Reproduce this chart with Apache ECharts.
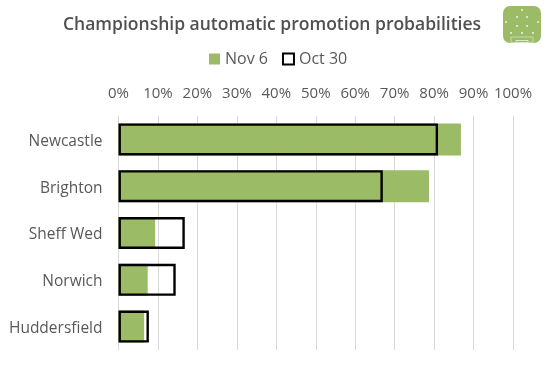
<!DOCTYPE html>
<html><head><meta charset="utf-8">
<style>html,body{margin:0;padding:0;background:#fff}#c{width:546px;height:365px}</style>
<script src="https://cdn.jsdelivr.net/npm/echarts@6/dist/echarts.min.js"></script>
</head><body><div id="c"></div>
<script>
const categories = ['Newcastle','Brighton','Sheff Wed','Norwich','Huddersfield'];
const nov6 = [86.8,78.7,9.3,7.4,6.5];
const oct30 = [81,67,16.8,14.5,7.7];
const seriesNames = ['Nov 6','Oct 30'];
const titleText = 'Championship automatic promotion probabilities';
const font = '"Open Sans"';
const green = '#9BBB67', grey = '#595959';
const chart = echarts.init(document.getElementById('c'));
const dots = [[506,22],[517,17],[527,17],[538,22],[517,26],[527,26],[511,33],[522,33],[533,33],[522,10]];
chart.setOption({
  animation:false,
  title:{text:titleText,left:63,top:16,padding:0,textStyle:{fontFamily:font,fontSize:17.5,fontWeight:600,color:'#505050'}},
  legend:{data:[{name:seriesNames[0],icon:'rect'},{name:seriesNames[1],icon:'rect'}],top:51,left:209,padding:0,itemWidth:11,itemHeight:11,itemGap:14,
    textStyle:{fontFamily:font,fontSize:16,color:grey}},
  grid:{left:118.5,right:33,top:116,bottom:15,containLabel:false},
  xAxis:{type:'value',position:'top',min:0,max:100,interval:10,
    axisLine:{show:false},axisTick:{show:false},
    axisLabel:{formatter:'{value}%',fontFamily:font,fontSize:15,color:grey,margin:15},
    splitLine:{show:true,lineStyle:{color:'#D9D9D9',width:1}}},
  yAxis:{type:'category',data:categories,inverse:true,
    axisLine:{show:true,lineStyle:{color:'#D9D9D9'}},axisTick:{show:false},
    axisLabel:{margin:16,formatter:'{a|{value}}',
      rich:{a:{fontFamily:font,fontSize:15.5,color:grey,padding:[4,0,0,0]}}}},
  series:[
    {name:seriesNames[0],type:'bar',data:nov6,barWidth:32,barGap:'-100%',itemStyle:{color:green},z:2},
    {name:seriesNames[1],type:'bar',data:oct30,barWidth:32,barGap:'-100%',
      itemStyle:{color:'rgba(255,255,255,0)',borderColor:'#000',borderWidth:2.4},z:3}
  ],
  graphic:[
    {type:'rect',shape:{x:503,y:6,width:38,height:37,r:7},style:{fill:green},z:10},
    ...dots.map(d=>({type:'circle',shape:{cx:d[0],cy:d[1],r:1},style:{fill:'#EEF3E2'},z:11})),
    {type:'rect',shape:{x:511,y:37,width:22,height:5.5},style:{fill:'none',stroke:'#C9DCAB',lineWidth:1},z:11},
    {type:'rect',shape:{x:516,y:40.5,width:12,height:2},style:{fill:'none',stroke:'#DDE9C9',lineWidth:1},z:11}
  ]
});
</script></body></html>
